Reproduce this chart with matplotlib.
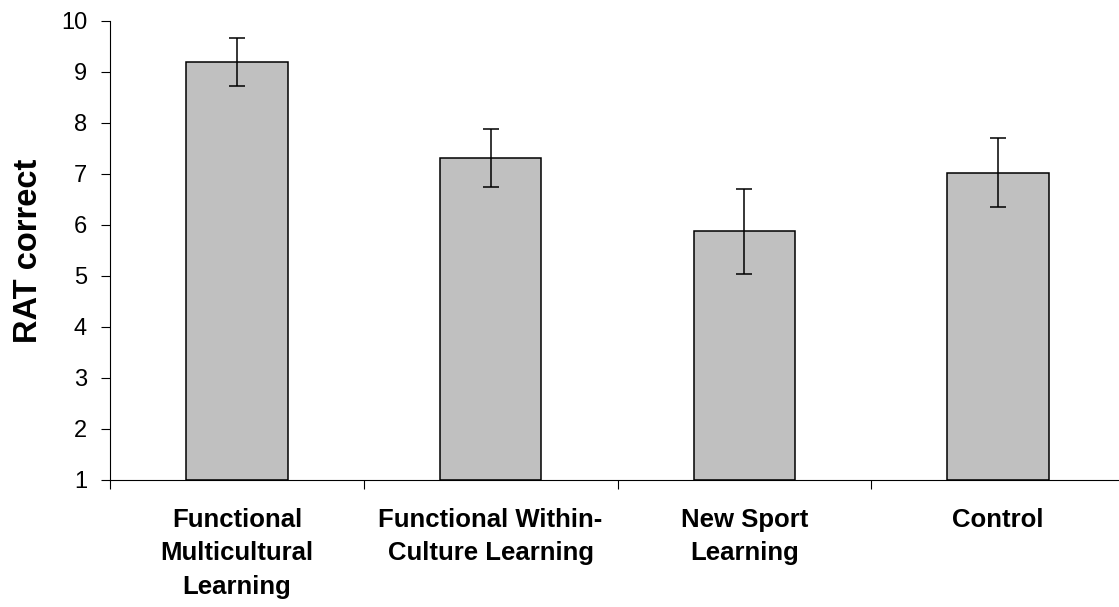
import matplotlib.pyplot as plt
import numpy as np

plt.rcParams['font.family'] = ['Liberation Sans', 'DejaVu Sans']

# data
groups = ['Functional\nMulticultural\nLearning', 'Functional Within-\nCulture Learning',
          'New Sport\nLearning', 'Control']
means = [9.20, 7.31, 5.87, 7.02]
errors = [0.47, 0.56, 0.84, 0.68]
y_ticks = [1, 2, 3, 4, 5, 6, 7, 8, 9, 10]

fig = plt.figure(figsize=(11.19, 6.07), dpi=100)
# axes runs a little past the right edge of the picture, like the original
ax = fig.add_axes([110 / 1119, 127 / 607, 1015 / 1119, (480 - 20.7) / 607])

x = np.arange(len(groups))
ax.bar(x, np.array(means) - 1, bottom=1, width=0.4, color='#c0c0c0',
       edgecolor='black', linewidth=1.1, zorder=2)
ax.errorbar(x, means, yerr=errors, fmt='none', ecolor='black',
            elinewidth=1.1, capsize=5.8, capthick=1.1, zorder=3)

ax.set_xlim(-0.5, len(groups) - 0.5)
ax.set_ylim(1, 10)
ax.set_yticks(y_ticks)
ax.tick_params(axis='y', labelsize=17, length=6.5, width=0.8, pad=10, direction='out')

# category labels centred under bars, ticks between categories
ax.set_xticks(x)
ax.set_xticklabels(groups, fontsize=18.5, fontweight='bold', linespacing=1.5)
ax.tick_params(axis='x', length=0, pad=20)
ax.set_xticks(np.arange(-0.5, len(groups), 1.0), minor=True)
ax.tick_params(axis='x', which='minor', length=6.5, width=0.8, direction='out')

ax.set_ylabel('RAT correct', fontsize=23.5, fontweight='bold', labelpad=12)

for s in ['top', 'right']:
    ax.spines[s].set_visible(False)
ax.spines['left'].set_linewidth(0.8)
ax.spines['bottom'].set_linewidth(0.8)

fig.savefig('out.png', dpi=100, facecolor='white')
